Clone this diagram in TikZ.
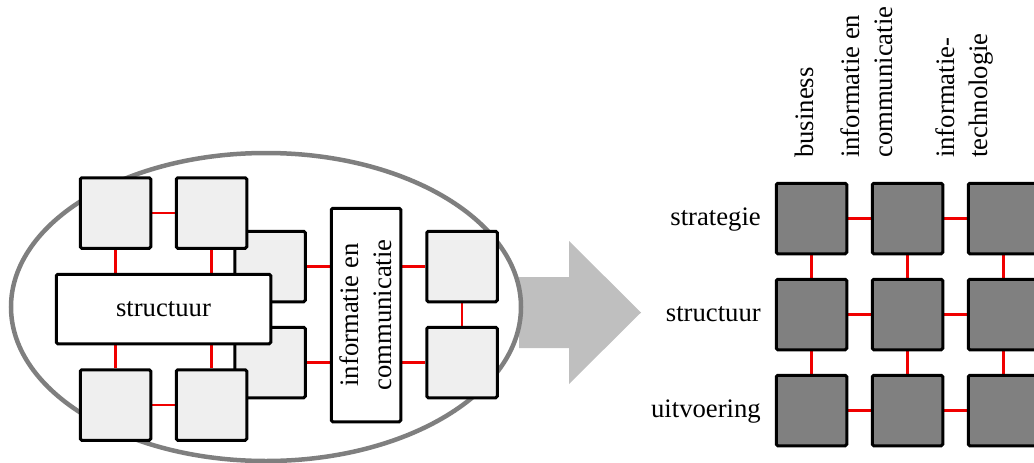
\documentclass[tikz,border=0pt]{standalone}
\usepackage{fontspec}
\setmainfont{Liberation Serif}
\usetikzlibrary{backgrounds}
\definecolor{boxlight}{HTML}{EFEFEF}
\definecolor{boxdark}{HTML}{808080}
\definecolor{ringgray}{HTML}{7F7F7F}
\definecolor{arrowgray}{HTML}{BFBFBF}
\definecolor{linkred}{HTML}{F00000}
\tikzset{
  txt/.style={font=\fontsize{26.7}{33}\selectfont, inner sep=0pt},
  cell/.style={draw=black, line width=3pt, rounded corners=1.5pt,
    minimum width=70.5pt, minimum height=70.5pt, inner sep=0pt},
  lightcell/.style={cell, fill=boxlight},
  darkcell/.style={cell, fill=boxdark},
  widebox/.style={draw=black, line width=3pt, rounded corners=1.5pt, fill=white,
    minimum width=214.5pt, minimum height=69.5pt, txt},
  tallbox/.style={draw=black, line width=3pt, rounded corners=1.5pt, fill=white,
    minimum width=69.5pt, minimum height=213.5pt},
  link/.style={draw=linkred, line width=2.6pt},
  header/.style={txt, rotate=90, anchor=base west, align=left},
  rowlabel/.style={txt, anchor=base east}
}
\begin{document}
\begin{tikzpicture}[x=1pt, y=-1pt]
\useasboundingbox (0,0) rectangle (1034,463);
\clip (0,0) rectangle (1034,463);

% transition arrow
\fill[arrowgray] (519,277) -- (569,277) -- (569,241) -- (641,312.5)
  -- (569,384) -- (569,348) -- (519,348) -- cycle;

% organisation ring
\draw[ringgray, line width=4.5pt] (266,307) ellipse [x radius=255, y radius=154];

% left side: boxes around structuur and informatie en communicatie
\node[lightcell] (mr1) at (270,266.5) {};
\node[lightcell] (mr2) at (270,362.5) {};
\node[lightcell] (tl1) at (115.5,213) {};
\node[lightcell] (tl2) at (211.5,213) {};
\node[lightcell] (bl1) at (115.5,405) {};
\node[lightcell] (bl2) at (211.5,405) {};
\node[widebox] (st) at (163.5,309) {structuur};
\node[tallbox] (info) at (366,315) {};
\node[txt, rotate=90, align=center] (infotext) at (info.center)
  {informatie en\\communicatie};
\node[lightcell] (r1) at (462,266.5) {};
\node[lightcell] (r2) at (462,362.5) {};

% right side: 3x3 grid
\foreach \r/\y in {1/218.5, 2/314.5, 3/410.5}
  \foreach \c/\x in {1/811.5, 2/907.5, 3/1003.5}
    \node[darkcell] (g\r\c) at (\x,\y) {};

\node[rowlabel] (lstrat) at (761,225) {strategie};
\node[rowlabel] (lstruc) at (761,321) {structuur};
\node[rowlabel] (luitv) at (761,417) {uitvoering};

\node[header] (hbus) at (813,158) {business};
\node[header] (hic) at (892,158) {informatie en\\communicatie};
\node[header] (hit) at (987,158) {informatie-\\technologie};

% red links
\begin{pgfonlayer}{background}
  \path[link] (tl1.east) -- (tl2.west);
  \path[link] (bl1.east) -- (bl2.west);
  \path[link] (tl1.south) -- (tl1.south |- st.north);
  \path[link] (tl2.south) -- (tl2.south |- st.north);
  \path[link] (bl1.north) -- (bl1.north |- st.south);
  \path[link] (bl2.north) -- (bl2.north |- st.south);
  \path[link] (mr1.east) -- (mr1.east -| info.west);
  \path[link] (mr2.east) -- (mr2.east -| info.west);
  \path[link] (r1.west) -- (r1.west -| info.east);
  \path[link] (r2.west) -- (r2.west -| info.east);
  \path[link] (r1.south) -- (r2.north);
  \foreach \r in {1,2,3} {
    \path[link] (g\r1.east) -- (g\r2.west);
    \path[link] (g\r2.east) -- (g\r3.west);
  }
  \foreach \c in {1,2,3} {
    \path[link] (g1\c.south) -- (g2\c.north);
    \path[link] (g2\c.south) -- (g3\c.north);
  }
\end{pgfonlayer}
\end{tikzpicture}
\end{document}
